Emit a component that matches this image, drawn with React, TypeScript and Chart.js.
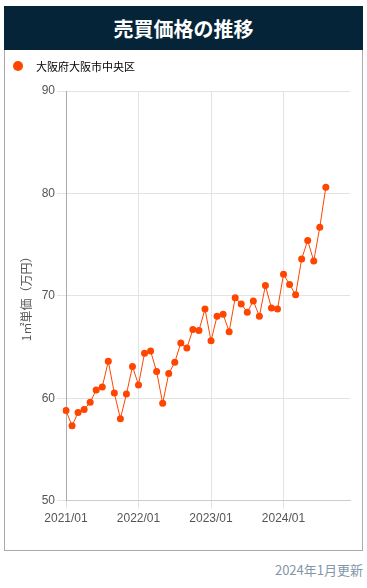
import React, { useEffect, useRef } from "react";
import { Chart, registerables } from "chart.js";

Chart.register(...registerables);

const title = "売買価格の推移";
const seriesName = "大阪府大阪市中央区";
const yTitle = "1㎡単価（万円）";
const updated = "2024年1月更新";

const years = ["2021", "2022", "2023", "2024"];
const months = ["01", "02", "03", "04", "05", "06", "07", "08", "09", "10", "11", "12"];
const labels: string[] = years.flatMap((y) => months.map((m) => `${y}/${m}`));

const prices: number[] = [
  58.8, 57.3, 58.6, 58.9, 59.6, 60.8, 61.1, 63.6, 60.5, 58.0, 60.4, 63.1,
  61.3, 64.4, 64.6, 62.6, 59.5, 62.4, 63.5, 65.4, 64.9, 66.7, 66.6, 68.7,
  65.6, 68.0, 68.2, 66.5, 69.8, 69.2, 68.4, 69.5, 68.0, 71.0, 68.8, 68.7,
  72.1, 71.1, 70.1, 73.6, 75.4, 73.4, 76.7, 80.6,
];

const yMin = 50;
const yMax = 90;
const yStep = 10;

const lineColor = "#ff4500";

export default function App() {
  const ref = useRef<HTMLCanvasElement | null>(null);

  useEffect(() => {
    document.body.style.margin = "0";
    if (!ref.current) return;
    const chart = new Chart(ref.current, {
      type: "line",
      data: {
        labels,
        datasets: [
          {
            label: seriesName,
            data: prices,
            borderColor: lineColor,
            backgroundColor: lineColor,
            borderWidth: 1,
            pointRadius: 3.5,
            pointHoverRadius: 3.5,
            pointBorderWidth: 0,
            tension: 0,
            fill: false,
          },
        ],
      },
      options: {
        animation: false,
        responsive: false,
        maintainAspectRatio: false,
        layout: { padding: { left: 0, right: 12, top: 41, bottom: 21 } },
        plugins: {
          tooltip: { enabled: false },
          legend: { display: false },
        },
        scales: {
          x: {
            type: "category",
            offset: false,
            grid: {
              color: "#e3e3e3",
              tickLength: 8,
              drawTicks: true,
            },
            border: { color: "#cccccc" },
            ticks: {
              autoSkip: false,
              maxRotation: 0,
              minRotation: 0,
              padding: 3,
              color: "#555",
              font: { size: 12, family: "'Liberation Sans', Arial, sans-serif" },
              callback: (_v: any, i: number) => (labels[i].endsWith("/01") ? labels[i] : null),
            },
          },
          y: {
            min: yMin,
            max: yMax,
            afterFit: (scale: any) => {
              scale.width = 61;
            },
            ticks: {
              stepSize: yStep,
              padding: 2,
              color: "#555",
              font: { size: 12, family: "'Liberation Sans', Arial, sans-serif" },
            },
            grid: { color: "#e3e3e3", tickLength: 9 },
            border: { color: "#aaaaaa" },
            title: {
              display: true,
              text: yTitle,
              color: "#555",
              font: { size: 12, family: "'Noto Sans CJK JP', sans-serif" },
              padding: { top: 14, bottom: 0 },
            },
          },
        },
      },
    });
    return () => chart.destroy();
  }, []);

  return (
    <div style={{ margin: "6px 4px 0 4px", width: 359, fontFamily: "'Noto Sans CJK JP', sans-serif" }}>
      <div
        style={{
          background: "#062438",
          height: 44,
          color: "#fff",
          fontWeight: 700,
          fontSize: 20,
          display: "flex",
          alignItems: "center",
          justifyContent: "center",
        }}
      >
        {title}
      </div>
      <div
        style={{
          position: "relative",
          border: "1px solid #aaaaaa",
          borderTop: "none",
          height: 501,
          boxSizing: "border-box",
        }}
      >
        <div
          style={{
            position: "absolute",
            left: 8,
            top: 8,
            height: 16,
            display: "flex",
            alignItems: "center",
            fontSize: 11,
            color: "#000",
          }}
        >
          <span
            style={{
              display: "inline-block",
              width: 10,
              height: 10,
              borderRadius: "50%",
              background: lineColor,
              marginRight: 13,
            }}
          />
          <span>{seriesName}</span>
        </div>
        <canvas ref={ref} width={357} height={500} style={{ display: "block" }} />
      </div>
      <div style={{ textAlign: "right", color: "#8396a8", fontSize: 13, marginTop: 10, lineHeight: "18px" }}>
        {updated}
      </div>
    </div>
  );
}
